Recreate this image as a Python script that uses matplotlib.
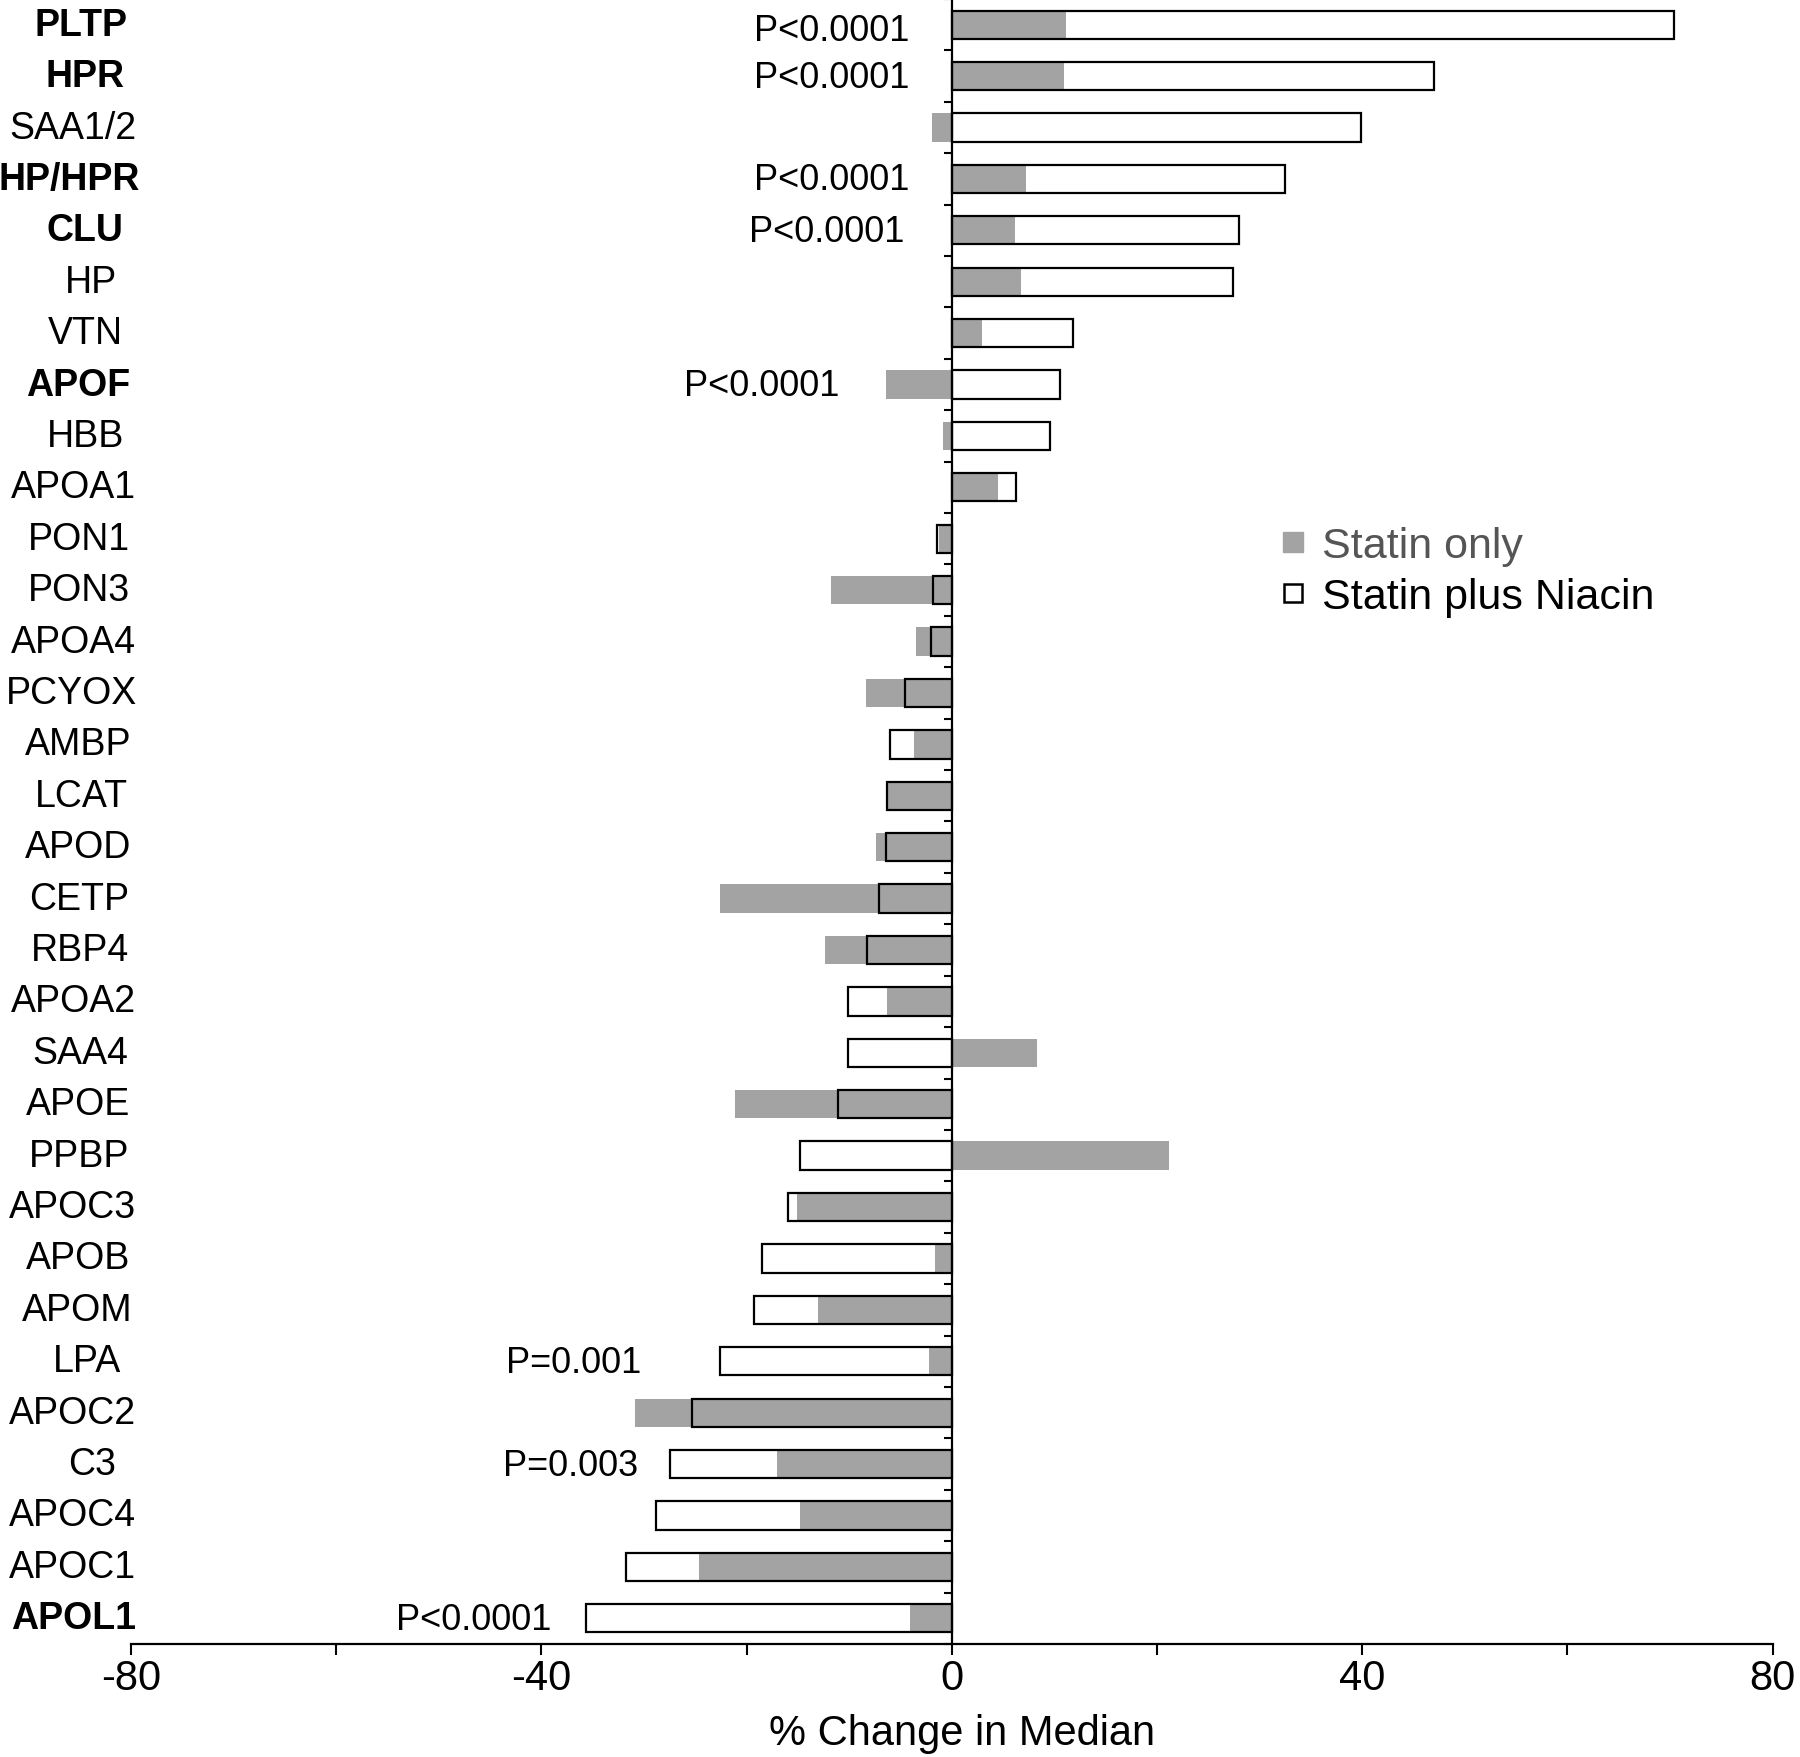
import matplotlib
matplotlib.use("Agg")
import matplotlib.pyplot as plt
from matplotlib.lines import Line2D
from matplotlib.ticker import MultipleLocator, FuncFormatter
import matplotlib.transforms as mtransforms
import numpy as np

plt.rcParams['font.family'] = ['Liberation Sans', 'DejaVu Sans']

proteins = ["PLTP", "HPR", "SAA1/2", "HP/HPR", "CLU", "HP", "VTN", "APOF", "HBB",
            "APOA1", "PON1", "PON3", "APOA4", "PCYOX", "AMBP", "LCAT", "APOD", "CETP",
            "RBP4", "APOA2", "SAA4", "APOE", "PPBP", "APOC3", "APOB", "APOM", "LPA",
            "APOC2", "C3", "APOC4", "APOC1", "APOL1"]
bold_labels = ["PLTP", "HPR", "HP/HPR", "CLU", "APOF", "APOL1"]

statin_only = [11.1, 10.9, -1.9, 7.2, 6.2, 6.7, 2.9, -6.4, -0.9,
               4.5, -1.3, -11.8, -3.5, -8.4, -3.7, -6.2, -7.4, -22.6,
               -12.4, -6.3, 8.3, -21.1, 21.2, -15.1, -1.6, -13.0, -2.2,
               -30.9, -17.0, -14.8, -24.6, -4.1]
statin_niacin = [70.4, 47.0, 39.9, 32.5, 28.0, 27.4, 11.8, 10.5, 9.6,
                 6.3, -1.4, -1.8, -2.0, -4.6, -6.0, -6.3, -6.4, -7.1,
                 -8.3, -10.1, -10.1, -11.1, -14.8, -16.0, -18.5, -19.3, -22.6,
                 -25.3, -27.5, -28.8, -31.8, -35.7]

pval_proteins = ["PLTP", "HPR", "HP/HPR", "CLU", "APOF", "LPA", "C3", "APOL1"]
pval_texts = ["P<0.0001", "P<0.0001", "P<0.0001", "P<0.0001", "P<0.0001",
              "P=0.001", "P=0.003", "P<0.0001"]
pval_x = [-4.1, -4.1, -4.1, -4.6, -11.0, -30.3, -30.6, -39.0]
pval_dy = [0.12, 0.02, 0.02, 0.02, 0.02, 0.02, 0.02, 0.02]

gray = '#a3a3a3'

fig = plt.figure(figsize=(18, 17.58), dpi=100)
ax = fig.add_axes([0.0728, 0.0643, 0.912, 0.9357])

y = np.arange(len(proteins))
h = 0.55
ax.barh(y, statin_niacin, height=h, color='white', edgecolor='none', zorder=1)
ax.barh(y, statin_only, height=h, color=gray, edgecolor='none', zorder=2)
ax.barh(y, statin_niacin, height=h, fill=False, edgecolor='black', linewidth=1.6, zorder=3)

ax.set_xlim(-80, 80)
ax.set_ylim(len(proteins) - 0.5, -0.5)

for s in ['top', 'right']:
    ax.spines[s].set_visible(False)
ax.spines['left'].set_position(('data', 0))
ax.spines['left'].set_linewidth(1.6)
ax.spines['bottom'].set_linewidth(1.6)
ax.spines['left'].set_zorder(4)

ax.set_yticks(np.arange(-0.5, len(proteins), 1))
ax.set_yticklabels([])
ax.tick_params(axis='y', direction='out', length=6, width=1.5, left=True)

ax.xaxis.set_major_locator(MultipleLocator(20))
ax.xaxis.set_major_formatter(FuncFormatter(lambda v, p: f"{int(v)}" if int(round(v)) % 40 == 0 else ""))
ax.tick_params(axis='x', direction='out', length=8, width=1.5, labelsize=30, pad=2)
ax.set_xlabel("% Change in Median", fontsize=30, labelpad=11)
ax.xaxis.label.set_x(0.506)

# category labels
trans = mtransforms.blended_transform_factory(fig.transFigure, ax.transData)
anchor_px = 104.5
labels = []
for i, name in enumerate(proteins):
    t = ax.text(anchor_px / 1800, i, name, transform=trans, ha='left', va='center',
                fontsize=27, fontweight='bold' if name in bold_labels else 'normal',
                clip_on=False)
    labels.append(t)
fig.canvas.draw()
renderer = fig.canvas.get_renderer()
for t in labels:
    w = t.get_window_extent(renderer).width
    x0, y0 = t.get_position()
    t.set_position(((anchor_px - 0.75 * w) / 1800, y0))

# p-value annotations
for name, txt, xp, dy in zip(pval_proteins, pval_texts, pval_x, pval_dy):
    i = proteins.index(name)
    ax.text(xp, i + dy, txt, ha='right', va='center', fontsize=26)

handles = [Line2D([0], [0], marker='s', linestyle='none', markersize=14,
                  markerfacecolor=gray, markeredgecolor=gray),
           Line2D([0], [0], marker='s', linestyle='none', markersize=13,
                  markerfacecolor='white', markeredgecolor='black', markeredgewidth=1.8)]
leg = fig.legend(handles, ["Statin only", "Statin plus Niacin"], loc='upper left',
                 bbox_to_anchor=(0.687, 0.7225), frameon=False, fontsize=31,
                 handlelength=0.8, handletextpad=0.28, labelspacing=0.27)
leg.get_texts()[0].set_color('#555555')

fig.savefig("out.png", dpi=100)
